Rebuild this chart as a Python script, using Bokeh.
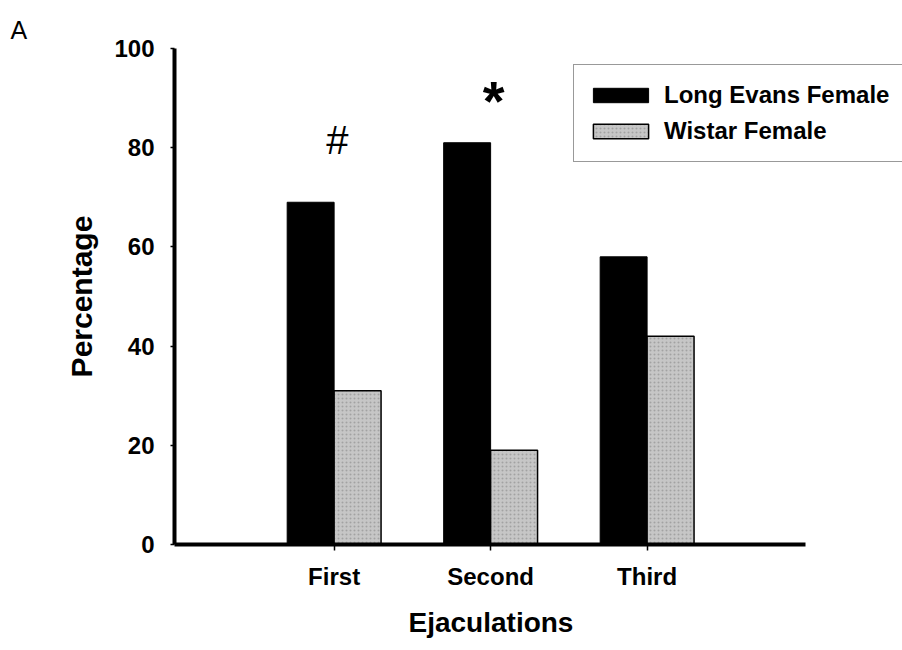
import numpy as np
from bokeh.plotting import figure
from bokeh.models import FixedTicker, Legend, LegendItem, Range1d, Title
from bokeh.core.properties import value
from bokeh.embed import file_html
from bokeh.resources import INLINE

# Percentage of ejaculations per female strain
categories = ["First", "Second", "Third"]
long_evans = [69, 81, 58]
wistar = [31, 19, 42]
sig_marks = ["#", "*", ""]
y_ticks = [0, 20, 40, 60, 80, 100]

FONT = "Liberation Sans"

# the frame runs to the right edge so the legend box has room;
# the x axis itself is bounded to the data area
p = figure(width=902, height=650, output_backend="svg", toolbar_location=None,
           x_range=Range1d(-0.02, 4.632), y_range=Range1d(0, 100),
           min_border_left=174, min_border_right=0, min_border_top=48,
           min_border_bottom=106)
p.outline_line_color = None
p.xgrid.visible = False
p.ygrid.visible = False

xs = np.arange(1, len(categories) + 1)
bw = 0.30

r_le = p.vbar(x=xs - bw / 2, top=long_evans, bottom=0, width=bw,
              fill_color="black", line_color="black", line_width=1)
r_wi = p.vbar(x=xs + bw / 2, top=wistar, bottom=0, width=bw,
              fill_color="#c6c6c6", line_color="black", line_width=1.5,
              hatch_pattern="dot", hatch_color="#8a8a8a", hatch_scale=4,
              hatch_alpha=0.6)

# significance marks above each ejaculation group
mark_style = {"#": ("40px", "normal", 12.5), "*": ("56px", "bold", 8.5)}
for x, v, m in zip(xs, long_evans, sig_marks):
    if not m:
        continue
    size, style, off = mark_style[m]
    p.text(x=[x + 0.02], y=[v + off], text=[m], text_align="center",
           text_baseline="alphabetic", text_font=value(FONT),
           text_font_size=size, text_font_style=style, text_color="black")

# axes
p.xaxis.ticker = FixedTicker(ticks=[int(x) for x in xs])
p.xaxis.major_label_overrides = {int(x): c for x, c in zip(xs, categories)}
p.xaxis.bounds = (-0.02, 4.01)
p.yaxis.ticker = FixedTicker(ticks=y_ticks)
p.yaxis.axis_label = "Percentage"

for ax in (p.xaxis[0], p.yaxis[0]):
    ax.axis_line_width = 4
    ax.axis_line_color = "black"
    ax.major_tick_in = 0
    ax.minor_tick_line_color = None
    ax.major_tick_line_color = "black"
    ax.major_tick_line_width = 1.5
    ax.major_label_text_font = FONT
    ax.major_label_text_font_style = "bold"
    ax.major_label_text_font_size = "24px"
    ax.major_label_text_color = "black"
    ax.axis_label_text_font = FONT
    ax.axis_label_text_font_style = "bold"
    ax.axis_label_text_color = "black"

p.yaxis.axis_label_text_font_size = "30px"
p.xaxis.major_tick_out = 6
p.xaxis.major_label_standoff = 12
p.yaxis.major_tick_out = 4
p.yaxis.major_label_standoff = 16
p.yaxis.axis_label_standoff = 13

# x axis title, centred under the bounded axis rather than the whole frame
p.add_layout(Title(text="Ejaculations", align="left", offset=234,
                   text_font=FONT, text_font_size="28px",
                   text_font_style="bold", text_color="black", standoff=25),
             "below")

legend = Legend(items=[LegendItem(label="Long Evans Female", renderers=[r_le]),
                       LegendItem(label="Wistar Female", renderers=[r_wi])],
                location=(399, 382), glyph_width=69, glyph_height=18,
                label_standoff=9, padding=12, spacing=0, label_height=36,
                label_width=226,
                label_text_font=FONT, label_text_font_style="bold",
                label_text_font_size="24px", label_text_color="black",
                border_line_color="#333333", border_line_width=1,
                background_fill_color="white", background_fill_alpha=1)
p.add_layout(legend)

# panel letter
p.title.text = "A"
p.title.align = "left"
p.title.offset = -164
p.title.text_font = FONT
p.title.text_font_size = "25px"
p.title.text_font_style = "normal"
p.title.text_color = "black"

open("out.html", "w").write(file_html(p, INLINE))
